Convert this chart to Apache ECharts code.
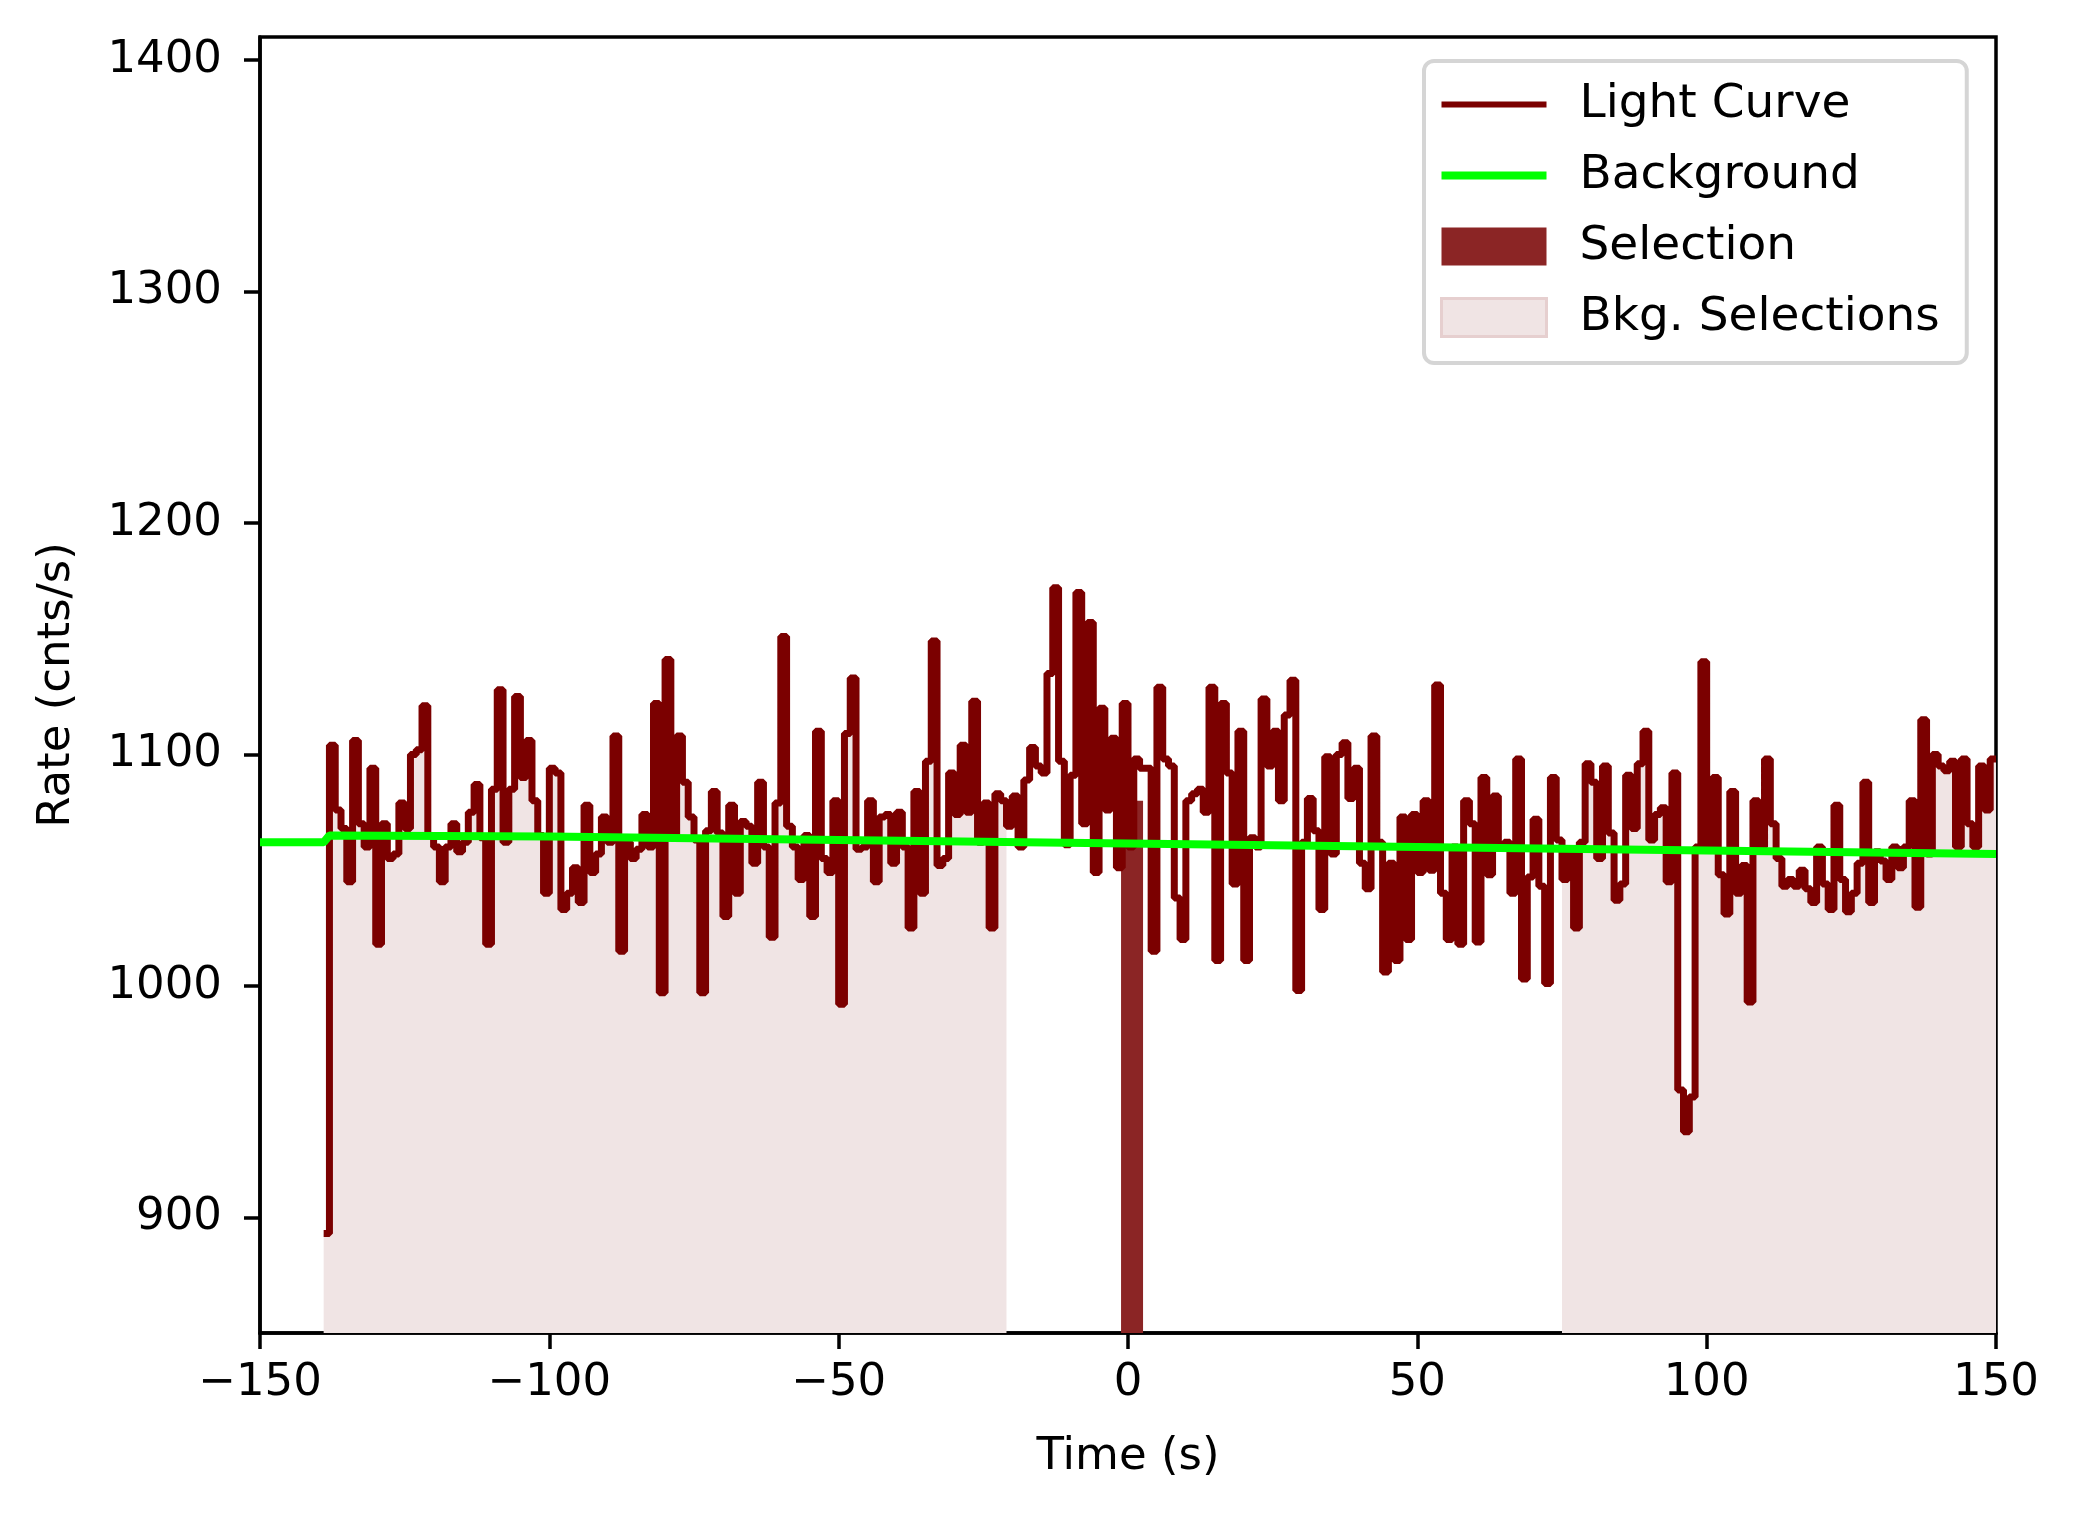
<!DOCTYPE html>
<html>
<head>
<meta charset="utf-8">
<title>Light Curve</title>
<script src="https://cdn.jsdelivr.net/npm/echarts@6/dist/echarts.min.js"></script>
<style>
  html, body { margin: 0; padding: 0; background: #fff; }
  #chart { width: 2077px; height: 1515px; }
</style>
</head>
<body>
<div id="chart"></div>
<script>
// light curve, 1 s bins starting at t = -139
var binStart = -139;
var rates = [
  893,1104,1076,1068,1045,1106,1070,1060,1094,1018,
  1070,1055,1057,1079,1068,1100,1102,1121,1065,1060,
  1045,1060,1070,1058,1062,1075,1087,1064,1018,1085,
  1128,1062,1085,1125,1090,1106,1080,1065,1040,1094,
  1092,1033,1040,1051,1036,1078,1049,1057,1073,1062,
  1108,1015,1062,1055,1059,1074,1060,1122,997,1141,
  1065,1108,1088,1073,1063,997,1067,1084,1066,1030,
  1078,1040,1071,1069,1053,1088,1060,1021,1079,1151,
  1069,1060,1046,1065,1030,1110,1055,1049,1080,992,
  1109,1133,1059,1060,1080,1045,1073,1074,1053,1075,
  1060,1025,1084,1040,1097,1149,1052,1055,1092,1074,
  1104,1075,1123,1062,1079,1025,1083,1080,1069,1082,
  1060,1089,1103,1095,1092,1135,1172,1097,1061,1091,
  1170,1070,1157,1049,1120,1076,1107,1051,1122,1060,
  1098,1094,1094,1015,1129,1098,1095,1038,1020,1080,
  1083,1085,1075,1129,1011,1122,1092,1044,1110,1011,
  1064,1060,1124,1095,1110,1080,1117,1132,998,1062,
  1081,1067,1033,1099,1057,1100,1105,1081,1094,1053,
  1042,1108,1062,1006,1053,1011,1073,1020,1074,1049,
  1080,1050,1130,1040,1020,1060,1018,1080,1070,1019,
  1090,1048,1082,1060,1062,1040,1098,1003,1047,1072,
  1043,1001,1090,1063,1046,1059,1025,1062,1096,1088,
  1055,1095,1066,1037,1044,1091,1068,1096,1110,1063,
  1074,1077,1045,1092,955,937,952,1060,1140,1060,
  1090,1048,1031,1084,1040,1052,993,1080,1060,1098,
  1070,1055,1043,1046,1043,1050,1042,1036,1060,1044,
  1033,1078,1046,1032,1040,1053,1088,1036,1058,1054,
  1046,1060,1051,1060,1080,1034,1115,1057,1100,1095,
  1093,1097,1060,1098,1070,1060,1095,1076,1098
];
var bkgTimes = [-150, -139, -138, -100, -50, 0, 50, 100, 150];
var bkgRates = [1062, 1062, 1065, 1064.5, 1063, 1061.5, 1060, 1058.5, 1057];
var bkgRanges = [[-139, -22], [75, 150]];
var selTime = 0.7, selRate = 1080;
var yTicks = [900, 1000, 1100, 1200, 1300, 1400];

var curve = [];
for (var i = 0; i < rates.length; i++) curve.push([binStart + i, rates[i]]);
curve.push([150, rates[rates.length - 1]]);

function inBkg(t) {
  for (var k = 0; k < bkgRanges.length; k++) {
    if (t >= bkgRanges[k][0] && t <= bkgRanges[k][1]) return true;
  }
  return false;
}
var bkgFill = curve.map(function (p) { return inBkg(p[0]) ? p : [p[0], null]; });

var font = 'DejaVu Sans';
var chart = echarts.init(document.getElementById('chart'));
chart.setOption({
  animation: false,
  textStyle: { fontFamily: font },
  grid: { left: 260, right: 81, top: 37, bottom: 182, show: true, borderColor: '#000', borderWidth: 3.5, backgroundColor: 'transparent' },
  legend: {
    orient: 'vertical', left: 1424, top: 61,
    padding: [20, 27, 22, 16],
    itemWidth: 105, itemHeight: 38, itemGap: 24,
    borderColor: '#d5d5d5', borderWidth: 4, borderRadius: 10,
    backgroundColor: 'rgba(255,255,255,0.8)',
    textStyle: { fontSize: 47, color: '#000', fontFamily: font, padding: [0, 0, 0, 28], lineHeight: 38 },
    data: [
      { name: 'Light Curve', icon: 'path://M0,0M0,16h105v6h-105zM105,38' },
      { name: 'Background', icon: 'path://M0,0M0,15h105v8h-105zM105,38' },
      { name: 'Selection', icon: 'rect' },
      { name: 'Bkg. Selections', icon: 'rect', itemStyle: { color: '#f0e4e4', borderColor: '#e6cfcf', borderWidth: 3 } }
    ]
  },
  xAxis: {
    type: 'value', min: -150, max: 150, interval: 50,
    name: 'Time (s)', nameLocation: 'middle', nameGap: 102,
    nameTextStyle: { fontSize: 45, color: '#000' },
    axisLine: { onZero: false, lineStyle: { color: '#000', width: 3.5 } },
    axisTick: { length: 16, inside: false, lineStyle: { width: 3.5, color: '#000' } },
    axisLabel: { fontSize: 45, color: '#000', margin: 28, formatter: function (v) { return v < 0 ? '\u2212' + (-v) : '' + v; } },
    splitLine: { show: false }
  },
  yAxis: {
    type: 'value', min: 850, max: 1410,
    name: 'Rate (cnts/s)', nameLocation: 'middle', nameGap: 180,
    nameTextStyle: { fontSize: 45, color: '#000' },
    axisLine: { show: true, onZero: false, lineStyle: { color: '#000', width: 3.5 } },
    axisTick: { show: true, length: 16, customValues: yTicks, lineStyle: { width: 3.5, color: '#000' } },
    axisLabel: { fontSize: 45, color: '#000', margin: 38, customValues: yTicks, formatter: function (v) { return '' + v; } },
    splitLine: { show: false }
  },
  series: [
    {
      name: 'Bkg. Selections', type: 'line', step: 'end', data: bkgFill,
      symbol: 'none', lineStyle: { width: 0, opacity: 0 },
      itemStyle: { color: '#f0e4e4' },
      areaStyle: { color: '#f0e4e4', origin: 'start', opacity: 1 },
      z: 1, connectNulls: false
    },
    {
      name: 'Selection', type: 'bar', data: [[selTime, selRate]],
      barWidth: 22, itemStyle: { color: '#8b2525' }, z: 2
    },
    {
      name: 'Light Curve', type: 'line', step: 'end', data: curve,
      symbol: 'none', lineStyle: { color: '#7b0000', width: 7 },
      itemStyle: { color: '#7b0000' }, z: 3
    },
    {
      name: 'Background', type: 'line', data: bkgTimes.map(function (t, i) { return [t, bkgRates[i]]; }),
      symbol: 'none', lineStyle: { color: '#00ff00', width: 8 },
      itemStyle: { color: '#00ff00' }, z: 4
    }
  ]
});
</script>
</body>
</html>
